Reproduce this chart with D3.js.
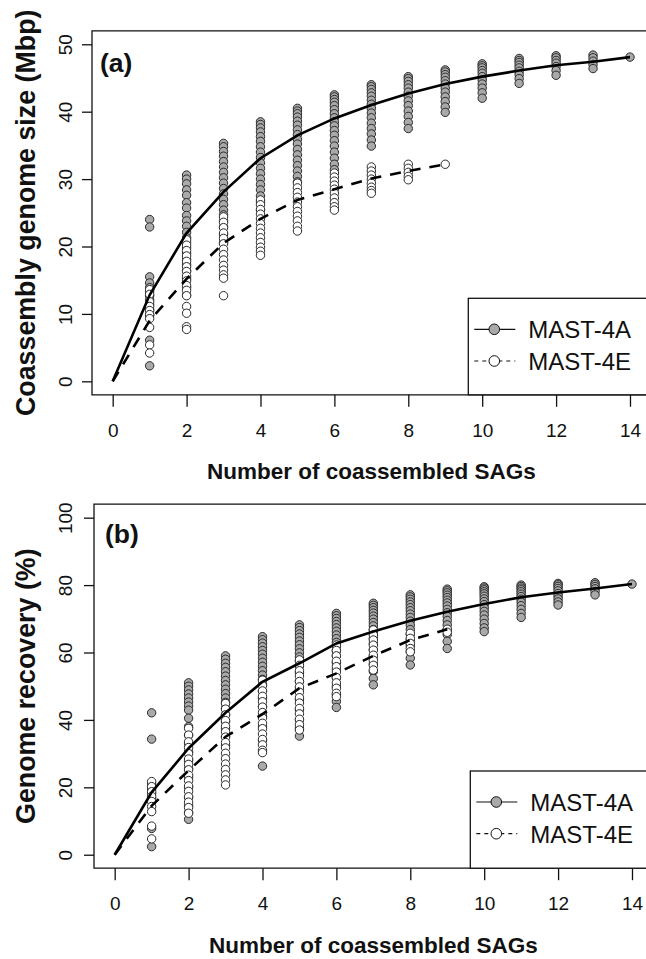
<!DOCTYPE html>
<html><head><meta charset="utf-8">
<script src="https://cdn.jsdelivr.net/npm/d3@7"></script>
<style>body{margin:0;background:#fff}svg{display:block}text{font-family:"Liberation Sans",Arial,Helvetica,sans-serif}</style>
</head><body><svg id="c" width="646" height="959"></svg>
<script>
const sags = [1,2,3,4,5,6,7,8,9,10,11,12,13,14];
const xTicks = [0,2,4,6,8,10,12,14];
const aYTicks = [0,10,20,30,40,50];
const bYTicks = [0,20,40,60,80,100];
const seriesNames = ["MAST-4A","MAST-4E"];

// Panel (a): coassembly genome size (Mbp), one list per number of SAGs
const sizeA = [
 [24.0,22.9,15.5,14.6,13.9,13.3,12.7,12.1,11.4,10.6,9.8,6.1,2.3],
 [30.6,30.0,29.3,28.4,27.6,26.5,25.7,24.6,23.8,23.0,22.1,21.3,20.6,19.8,19.0,18.1,17.3,16.4,15.2,13.9,12.8],
 [35.3,34.8,34.1,33.4,32.6,31.8,31.0,30.2,29.4,28.6,27.8,27.0,26.2,25.4,24.7,23.8,22.9,21.8,20.6],
 [38.5,38.1,37.6,37.0,36.3,35.6,34.8,34.0,33.2,32.4,31.6,30.8,30.0,29.2,28.4,27.5,26.6,25.4],
 [40.5,40.1,39.7,39.2,38.6,38.0,37.3,36.6,35.9,35.2,34.4,33.6,32.8,32.0,31.2,30.4,29.6],
 [42.5,42.2,41.8,41.4,40.9,40.3,39.7,39.1,38.5,37.9,37.2,36.5,35.7,34.9,34.0,33.1,32.2,31.4],
 [44.0,43.7,43.3,42.8,42.3,41.7,41.1,40.5,39.8,39.1,38.3,37.5,36.7,35.8,34.9],
 [45.2,44.9,44.5,44.0,43.5,42.9,42.3,41.6,40.9,40.1,39.3,38.4,37.5],
 [46.2,45.9,45.5,45.1,44.6,44.1,43.5,42.9,42.2,41.5,40.7,39.9],
 [47.1,46.8,46.5,46.1,45.7,45.2,44.7,44.1,43.5,42.8,42.0],
 [47.9,47.6,47.3,46.9,46.5,46.0,45.5,44.9,44.2],
 [48.3,48.0,47.6,47.2,46.7,46.1,45.4],
 [48.4,48.0,47.5,47.0,46.4],
 [48.1]
];
const sizeE = [
 [13.6,12.9,11.8,11.1,10.5,9.9,9.3,8.0,5.4,4.2],
 [21.0,20.2,19.4,18.6,17.8,17.0,16.3,15.6,14.9,14.2,13.5,12.7,11.1,10.1,8.1,7.7],
 [24.4,23.6,22.8,22.0,21.2,20.4,19.6,18.8,18.0,17.2,16.5,15.8,15.3,12.7],
 [26.9,26.2,25.5,24.8,24.1,23.4,22.7,22.0,21.3,20.6,19.9,19.3,18.7],
 [29.4,28.7,28.0,27.3,26.6,25.9,25.2,24.5,23.8,23.0,22.3],
 [30.9,30.3,29.7,29.1,28.5,27.9,27.2,26.5,25.9,25.4],
 [31.8,31.2,30.6,30.0,29.4,28.8,28.3,27.9],
 [32.2,31.6,31.0,30.4,29.9],
 [32.2]
];
const sizeMeanA = [0,12.8,22.0,28.1,33.1,36.5,39.0,41.0,42.7,44.1,45.2,46.1,46.9,47.4,48.1];
const sizeMeanE = [0,9.0,15.2,20.5,24.1,26.9,28.5,30.1,31.2,32.2];

// Panel (b): genome recovery (%)
const recA = [
 [42.1,34.3,21.0,19.5,18.2,16.8,7.8,2.4],
 [51.0,50.0,48.9,47.7,46.5,45.3,44.1,42.9,40.5,38.0,35.5,33.0,30.5,28.0,25.5,23.0,20.0,17.0,14.5,12.5,10.5],
 [59.0,58.0,56.8,55.6,54.3,53.0,51.7,50.4,49.1,47.8,46.5,45.2,43.5,41.5,39.5,37.5,35.0,32.5],
 [64.7,63.8,62.8,61.7,60.6,59.5,58.3,57.1,55.9,54.6,53.3,52.0,50.5,48.5,46.5,44.0,41.0,38.0,34.0,26.3],
 [68.2,67.4,66.5,65.5,64.5,63.4,62.3,61.1,59.9,58.7,57.4,56.0,54.0,51.5,49.0,46.0,43.0,40.0,37.5,35.2],
 [71.6,70.9,70.1,69.2,68.3,67.3,66.3,65.2,64.1,63.0,61.8,60.5,59.0,57.0,55.0,52.5,50.0,47.5,45.5,43.7],
 [74.6,74.0,73.3,72.5,71.7,70.8,69.9,68.9,67.9,66.8,65.6,64.2,62.6,60.8,58.8,56.6,54.4,52.3,50.4],
 [77.1,76.5,75.8,75.0,74.2,73.3,72.4,71.4,70.4,69.3,68.1,66.8,65.4,63.8,62.1,60.3,58.3,56.3],
 [78.8,78.3,77.7,77.0,76.3,75.5,74.7,73.8,72.8,71.8,70.7,69.5,68.2,66.8,65.3,63.3,61.2],
 [79.5,79.1,78.6,78.0,77.4,76.7,75.9,75.1,74.2,73.2,72.2,71.1,69.9,68.6,67.3,66.2],
 [80.0,79.6,79.1,78.6,78.0,77.3,76.6,75.8,74.9,73.9,72.8,71.6,70.4],
 [80.5,80.1,79.6,79.0,78.3,77.5,76.7,75.9,75.0,74.1],
 [80.7,80.2,79.6,78.9,78.1,77.1],
 [80.3]
];
const recE = [
 [21.7,20.2,18.7,17.3,15.8,14.3,12.8,8.5,4.7],
 [37.5,35.5,33.5,31.8,30.0,28.4,26.8,25.2,23.6,22.0,20.4,18.8,17.2,15.6,14.0,12.3],
 [44.9,43.2,41.5,39.8,38.1,36.5,34.9,33.3,31.7,30.1,28.5,26.9,25.3,23.7,22.2,20.7],
 [51.8,50.2,48.6,47.0,45.4,43.8,42.2,40.6,39.0,37.4,35.8,34.2,32.6,31.0,30.3],
 [57.8,56.2,54.6,53.0,51.4,49.8,48.2,46.6,45.0,43.4,41.8,40.2,38.6,37.0],
 [62.2,60.6,59.0,57.4,55.8,54.2,52.6,51.0,49.4,47.9,46.9],
 [66.7,65.2,63.7,62.2,60.7,59.2,57.7,56.2,54.8],
 [65.7,64.2,62.7,61.2,60.2],
 [66.9,66.0]
];
const recMeanA = [0,18.5,31.6,42.1,51.3,56.8,62.7,66.2,69.4,72.1,74.4,76.4,77.8,79.0,80.3];
const recMeanE = [0,14.5,25.0,35.0,41.7,49.4,53.8,59.0,63.7,66.9];

const svg = d3.select("#c");
const GRAY = "#a9a9a9", STROKE = "#2a2a2a";

function panel(o){
  const x = d3.scaleLinear().domain([-0.56,14.56]).range([o.left, o.left + 15.12*36.95]);
  const y = d3.scaleLinear().domain(o.ydom).range([o.bottom, o.top]);
  const g = svg.append("g");
  g.append("path").attr("d", `M${x.range()[1]},${o.top}H${o.left}V${o.bottom}H${x.range()[1]}`)
    .attr("fill","none").attr("stroke","#111").attr("stroke-width",1.3);
  const xa = g.append("g").attr("transform",`translate(0,${o.bottom})`)
    .call(d3.axisBottom(x).tickValues(xTicks).tickSize(12).tickSizeOuter(0).tickPadding(4).tickFormat(d3.format("d")));
  xa.select(".domain").remove();
  xa.selectAll("line").attr("stroke","#111").attr("stroke-width",1.3);
  xa.selectAll("text").attr("font-size",19).attr("fill","#111").attr("dy",null)
    .attr("y", o.xLabBase - o.bottom);
  const ya = g.append("g").attr("transform",`translate(${o.left},0)`)
    .call(d3.axisLeft(y).tickValues(o.yTicks).tickSize(10).tickSizeOuter(0).tickFormat(d3.format("d")));
  ya.select(".domain").remove();
  ya.selectAll("line").attr("stroke","#111").attr("stroke-width",1.3);
  ya.selectAll("text").attr("font-size",19).attr("fill","#111")
    .attr("x",null).attr("dy",null).attr("text-anchor","middle")
    .attr("transform", `translate(${o.yLabBase - o.left},0) rotate(-90)`);
  svg.append("text").attr("x", (o.left + x.range()[1])/2).attr("y", o.xTitleBase)
    .attr("text-anchor","middle").attr("font-weight","bold").attr("font-size",22.5).attr("fill","#111").text("Number of coassembled SAGs");
  svg.append("text").attr("transform",`translate(${o.yTitleBase},${(o.top+o.bottom)/2}) rotate(-90)`)
    .attr("text-anchor","middle").attr("font-weight","bold").attr("font-size",26.8).attr("fill","#111").text(o.yTitle);
  svg.append("text").attr("x", o.labX).attr("y", o.labY).attr("font-weight","bold").attr("font-size",26.5).attr("fill","#111").text(o.label);

  const ptsA = o.A.flatMap((vals,i)=>vals.map(v=>({n:sags[i],v})));
  const ptsE = o.E.flatMap((vals,i)=>vals.map(v=>({n:sags[i],v})));
  g.append("g").selectAll("circle").data(ptsA).join("circle")
    .attr("cx",d=>x(d.n)).attr("cy",d=>y(d.v)).attr("r",4.2)
    .attr("fill",GRAY).attr("stroke",STROKE).attr("stroke-width",1);
  g.append("g").selectAll("circle").data(ptsE).join("circle")
    .attr("cx",d=>x(d.n)).attr("cy",d=>y(d.v)).attr("r",4.2)
    .attr("fill","#fff").attr("stroke",STROKE).attr("stroke-width",1);
  const line = d3.line().x((d,i)=>x(i)).y(d=>y(d));
  g.append("path").attr("d", line(o.mA)).attr("fill","none").attr("stroke","#000").attr("stroke-width",2.6);
  g.append("path").attr("d", line(o.mE)).attr("fill","none").attr("stroke","#000").attr("stroke-width",2.6)
    .attr("stroke-dasharray","11,9");

  const lg = g.append("g");
  lg.append("rect").attr("x",o.legX).attr("y",o.legY).attr("width", x.range()[1]-o.legX).attr("height", o.bottom-o.legY)
    .attr("fill","#fff").attr("stroke","#111").attr("stroke-width",1.3);
  seriesNames.forEach((s,i)=>{
    const cy = o.legY + 31 + i*31.7;
    lg.append("line").attr("x1",o.legX+6).attr("x2",o.legX+47).attr("y1",cy).attr("y2",cy)
      .attr("stroke","#111").attr("stroke-width",1.2).attr("stroke-dasharray", i ? "4,4" : null);
    lg.append("circle").attr("cx",o.legX+26).attr("cy",cy).attr("r",5.3)
      .attr("fill", i ? "#fff" : GRAY).attr("stroke","#111").attr("stroke-width",1);
    lg.append("text").attr("x",o.legX+60).attr("y",cy+9).attr("font-size",24).attr("fill","#111").text(s);
  });
}

panel({left:92, top:30.8, bottom:394.8, ydom:[-2,52], yTicks:aYTicks,
  xLabBase:437, yLabBase:72, xTitleBase:479, yTitleBase:35, yTitle:"Coassembly genome size (Mbp)",
  label:"(a)", labX:100, labY:72, A:sizeA, E:sizeE, mA:sizeMeanA, mE:sizeMeanE, legX:468.3, legY:298.3});
panel({left:94, top:504.2, bottom:868.2, ydom:[-4,104], yTicks:bYTicks,
  xLabBase:910, yLabBase:72, xTitleBase:953, yTitleBase:35, yTitle:"Genome recovery (%)",
  label:"(b)", labX:105, labY:542.5, A:recA, E:recE, mA:recMeanA, mE:recMeanE, legX:470.3, legY:771});
</script></body></html>
